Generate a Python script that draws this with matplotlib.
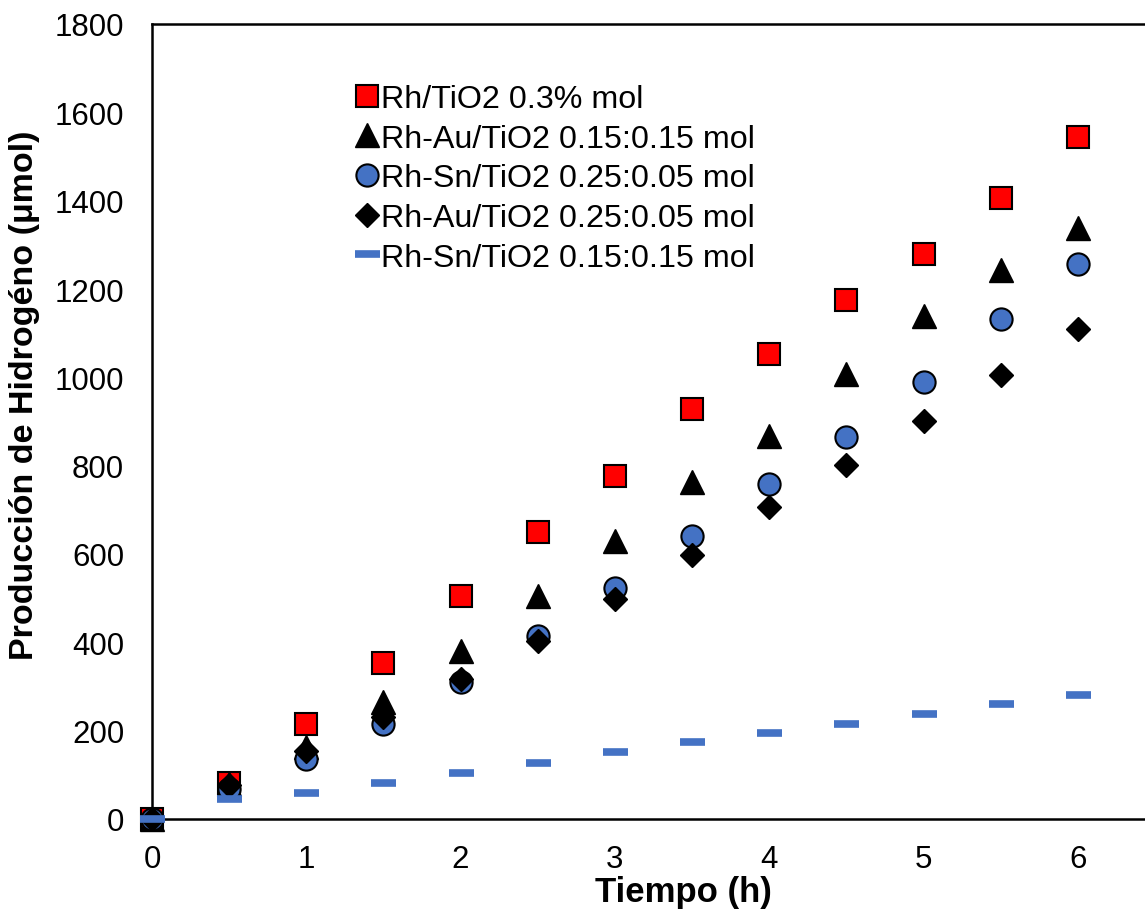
import matplotlib
matplotlib.use("Agg")
import matplotlib.pyplot as plt

plt.rcParams['font.family'] = ['Liberation Sans', 'DejaVu Sans']

tiempo = [0, 0.5, 1, 1.5, 2, 2.5, 3, 3.5, 4, 4.5, 5, 5.5, 6]
rh_tio2 = [0, 82, 216, 354, 504, 649, 776, 928, 1053, 1176, 1280, 1407, 1544]
rhau_1515 = [0, 80, 163, 266, 381, 504, 629, 763, 867, 1008, 1139, 1244, 1339]
rhsn_2505 = [0, 68, 136, 216, 311, 415, 522, 640, 758, 865, 990, 1133, 1257]
rhau_2505 = [0, 77, 154, 232, 318, 404, 499, 597, 706, 801, 901, 1006, 1110]
rhsn_1515 = [0, 45, 59, 82, 104, 127, 152, 175, 195, 216, 238, 261, 281]

labels = ["Rh/TiO2 0.3% mol", "Rh-Au/TiO2 0.15:0.15 mol", "Rh-Sn/TiO2 0.25:0.05 mol",
          "Rh-Au/TiO2 0.25:0.05 mol", "Rh-Sn/TiO2 0.15:0.15 mol"]

fig = plt.figure(figsize=(11.45, 9.12), dpi=100)
ax = fig.add_axes([152/1145, 92/912, 1 - 152/1145, 795/912])

ax.plot(tiempo, rh_tio2, ls='none', marker='s', ms=15.5, mfc='#FF0000', mec='black', mew=1.5,
        label=labels[0], clip_on=False, zorder=3)
ax.plot(tiempo, rhau_1515, ls='none', marker='^', ms=17, mfc='black', mec='black', mew=1,
        label=labels[1], clip_on=False, zorder=3)
ax.plot(tiempo, rhsn_2505, ls='none', marker='o', ms=16, mfc='#4472C4', mec='black', mew=1.5,
        label=labels[2], clip_on=False, zorder=3)
ax.plot(tiempo, rhau_2505, ls='none', marker='D', ms=12.5, mfc='black', mec='black', mew=1,
        label=labels[3], clip_on=False, zorder=3)
ax.plot(tiempo, rhsn_1515, ls='none', marker='_', ms=18, mec='#4472C4', mew=5.5,
        label=labels[4], clip_on=False, zorder=3)

ax.set_xlim(0, 993/154.3)
ax.set_ylim(0, 1800)
ax.set_xticks(range(0, 7))
ax.set_yticks(range(0, 1801, 200))
ax.tick_params(axis='both', length=0, labelsize=22.5)
ax.tick_params(axis='y', pad=20)
ax.tick_params(axis='x', pad=18)
for s in ['left', 'bottom', 'top']:
    ax.spines[s].set_linewidth(1.8)
    ax.spines[s].set_color('black')
ax.spines['right'].set_visible(False)

ax.set_xlabel('Tiempo (h)', fontsize=25, fontweight='bold', labelpad=4)
ax.xaxis.set_label_coords((683 - 152) / 993, -0.0)
ax.xaxis.label.set_verticalalignment('center')
ax.xaxis.set_label_coords((683 - 152) / 993, -(893 - 820) / 795)
ax.set_ylabel('Producción de Hidrogéno (μmol)', fontsize=24.5, fontweight='bold')
ax.yaxis.label.set_verticalalignment('center')
ax.yaxis.set_label_coords(-(152 - 25) / 993, (820 - 395) / 795)

ax.legend(loc='upper left', bbox_to_anchor=(357/1145, 1 - 85/912), bbox_transform=fig.transFigure,
          frameon=False, fontsize=23.2, handlelength=0.6, handletextpad=0.15,
          labelspacing=0.3, borderpad=0, borderaxespad=0, markerscale=1.0)

fig.savefig('out.png', dpi=100)
